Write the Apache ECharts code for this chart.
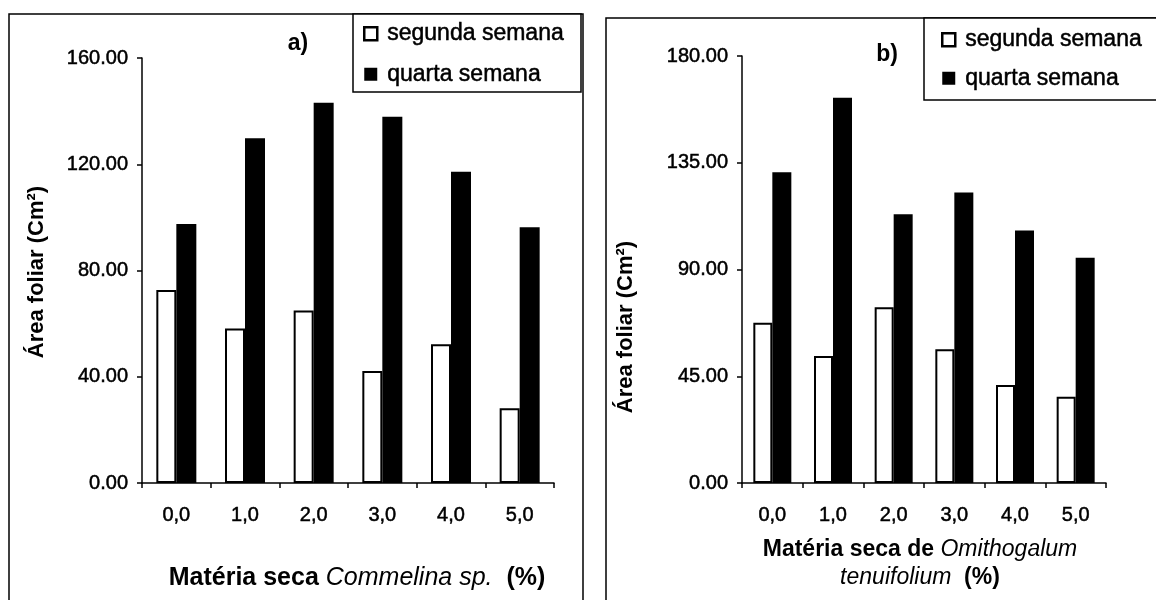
<!DOCTYPE html>
<html>
<head>
<meta charset="utf-8">
<script src="https://cdn.jsdelivr.net/npm/echarts@6/dist/echarts.min.js"></script>
<style>
  html, body { margin: 0; padding: 0; background: #fff; }
  #chart { width: 1156px; height: 600px; }
</style>
</head>
<body>
<div id="chart"></div>
<script>
// Doses of dry matter (%) on the category axis
const categories = ['0,0', '1,0', '2,0', '3,0', '4,0', '5,0'];

// a) Commelina sp. — leaf area (cm²)
const commelinaSegunda = [72.7, 58.2, 64.9, 42.2, 52.2, 28.1];
const commelinaQuarta  = [97.5, 129.8, 143.2, 137.9, 117.2, 96.3];

// b) Ornithogalum tenuifolium — leaf area (cm²)
const ornithoSegunda = [67.6, 53.5, 74.1, 56.4, 41.3, 36.4];
const ornithoQuarta  = [131.0, 162.4, 113.3, 122.5, 106.4, 95.0];

const seriesNames = ['segunda semana', 'quarta semana'];

const FONT = '"Liberation Sans", Arial, sans-serif';

const chart = echarts.init(document.getElementById('chart'), null, { renderer: 'canvas' });

// slightly heavier strokes for the regular-weight labels
const heavy = { textBorderColor: '#000', textBorderWidth: 0.5 };

function xAxisFor(gridIndex) {
  return {
    type: 'category',
    gridIndex,
    data: categories,
    boundaryGap: true,
    axisLine: { lineStyle: { color: '#000', width: 1.5 } },
    axisTick: { show: true, inside: false, length: 5, lineStyle: { color: '#000', width: 1.5 } },
    axisLabel: Object.assign({ color: '#000', fontFamily: FONT, fontSize: 20, margin: 22 }, heavy)
  };
}

function yAxisFor(gridIndex, max, interval) {
  return {
    type: 'value',
    gridIndex,
    min: 0,
    max,
    interval,
    splitLine: { show: false },
    axisLine: { show: true, lineStyle: { color: '#000', width: 1.5 } },
    axisTick: { show: true, inside: false, length: 5, lineStyle: { color: '#000', width: 1.5 } },
    axisLabel: Object.assign({
      color: '#000', fontFamily: FONT, fontSize: 20, margin: 14,
      formatter: v => v.toFixed(2)
    }, heavy)
  };
}

function whiteBars(idx, data, width) {
  return {
    name: seriesNames[0], type: 'bar', xAxisIndex: idx, yAxisIndex: idx,
    data, barWidth: width, barGap: '0%',
    itemStyle: { color: '#fff', borderColor: '#000', borderWidth: 2 }
  };
}
function blackBars(idx, data, width) {
  return {
    name: seriesNames[1], type: 'bar', xAxisIndex: idx, yAxisIndex: idx,
    data, barWidth: width, barGap: '0%',
    itemStyle: { color: '#000', borderColor: '#000', borderWidth: 0 }
  };
}

const legendText = Object.assign({ color: '#000', fontFamily: FONT, fontSize: 23, padding: [0, 0, 0, 5] }, heavy);
const legendData = [
  { name: seriesNames[0], itemStyle: { color: '#fff', borderColor: '#000', borderWidth: 2.5 } },
  { name: seriesNames[1], itemStyle: { color: '#000', borderColor: '#000', borderWidth: 0 } }
];

const option = {
  backgroundColor: '#fff',
  animation: false,
  grid: [
    { left: 142, right: 602, top: 58, bottom: 117, containLabel: false },
    { left: 742, right: 50, top: 56, bottom: 117, containLabel: false }
  ],
  xAxis: [xAxisFor(0), xAxisFor(1)],
  yAxis: [yAxisFor(0, 160, 40), yAxisFor(1, 180, 45)],
  legend: [
    {
      orient: 'vertical', left: 363, top: 22, padding: 0, itemGap: 17,
      itemWidth: 13, itemHeight: 13, icon: 'rect',
      data: legendData, textStyle: legendText, z: 10
    },
    {
      orient: 'vertical', left: 941, top: 28, padding: 0, itemGap: 15,
      itemWidth: 13, itemHeight: 13, icon: 'rect',
      data: legendData, textStyle: legendText, z: 10
    }
  ],
  series: [
    whiteBars(0, commelinaSegunda, 20),
    blackBars(0, commelinaQuarta, 20),
    whiteBars(1, ornithoSegunda, 19),
    blackBars(1, ornithoQuarta, 19)
  ],
  graphic: [
    // panel frames
    { type: 'rect', z: 0, shape: { x: 9, y: 14, width: 574, height: 600 },
      style: { fill: 'none', stroke: '#000', lineWidth: 1.5 } },
    { type: 'rect', z: 0, shape: { x: 606, y: 18, width: 560, height: 600 },
      style: { fill: 'none', stroke: '#000', lineWidth: 1.5 } },
    // legend boxes
    { type: 'rect', z: 1, shape: { x: 353, y: 14, width: 228, height: 78 },
      style: { fill: '#fff', stroke: '#000', lineWidth: 1.5 } },
    { type: 'rect', z: 1, shape: { x: 924, y: 18, width: 240, height: 82 },
      style: { fill: '#fff', stroke: '#000', lineWidth: 1.5 } },
    // panel letters
    { type: 'text', z: 5, x: 298, y: 44,
      style: { text: 'a)', fill: '#000', font: 'bold 23px ' + FONT, align: 'center', verticalAlign: 'middle' } },
    { type: 'text', z: 5, x: 887, y: 55,
      style: { text: 'b)', fill: '#000', font: 'bold 23px ' + FONT, align: 'center', verticalAlign: 'middle' } },
    // y-axis titles
    { type: 'text', z: 5, x: 37, y: 272, rotation: Math.PI / 2,
      style: { text: 'Área foliar (Cm²)', fill: '#000', font: 'bold 22px ' + FONT, align: 'center', verticalAlign: 'middle' } },
    { type: 'text', z: 5, x: 626, y: 327, rotation: Math.PI / 2,
      style: { text: 'Área foliar (Cm²)', fill: '#000', font: 'bold 22px ' + FONT, align: 'center', verticalAlign: 'middle' } },
    // x-axis titles
    { type: 'text', z: 5, x: 357, y: 578,
      style: {
        text: '{b|Matéria seca }{i|Commelina sp.}{b|  (%)}',
        align: 'center', verticalAlign: 'middle',
        rich: {
          b: { fontFamily: FONT, fontWeight: 'bold', fontSize: 25, fill: '#000', color: '#000' },
          i: { fontFamily: FONT, fontStyle: 'italic', fontSize: 25, fill: '#000', color: '#000' }
        }
      } },
    { type: 'text', z: 5, x: 920, y: 564,
      style: {
        text: '{b|Matéria seca de }{i|Omithogalum}\n{i|tenuifolium}{b|  (%)}',
        align: 'center', verticalAlign: 'middle',
        rich: {
          b: { fontFamily: FONT, fontWeight: 'bold', fontSize: 23, lineHeight: 28, fill: '#000', color: '#000' },
          i: { fontFamily: FONT, fontStyle: 'italic', fontSize: 23, lineHeight: 28, fill: '#000', color: '#000' }
        }
      } }
  ]
};

chart.setOption(option);
</script>
</body>
</html>
